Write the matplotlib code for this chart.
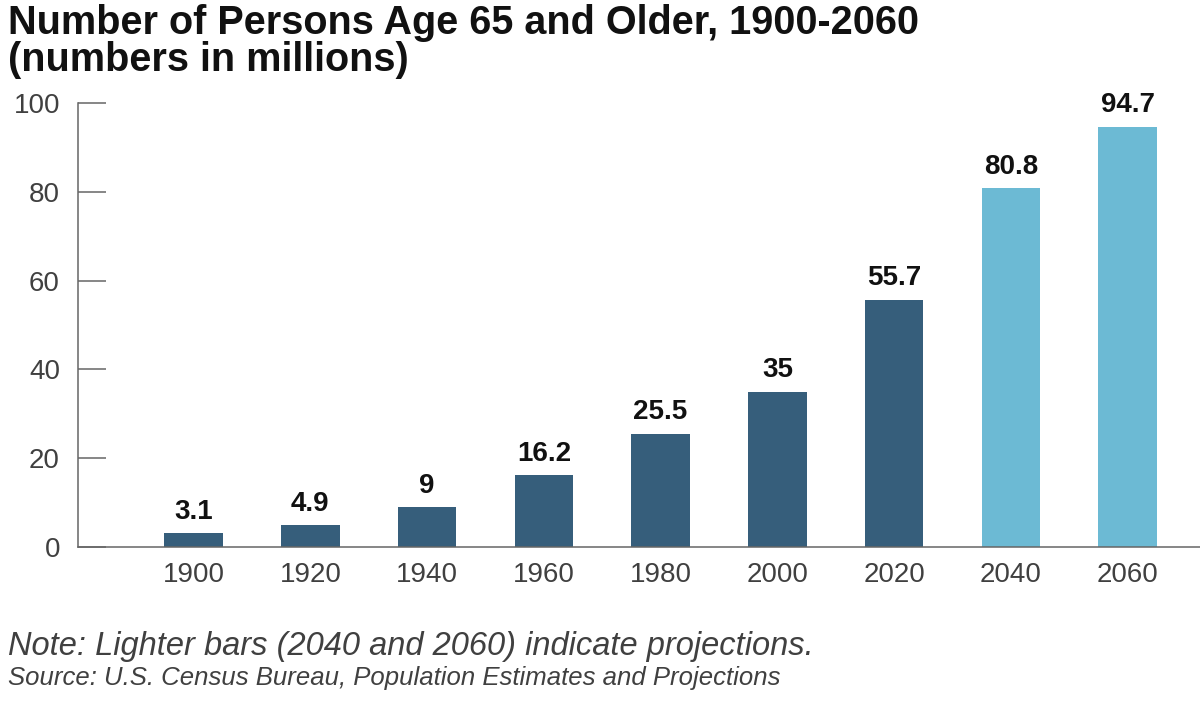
import matplotlib.pyplot as plt

# Data
years = ['1900', '1920', '1940', '1960', '1980', '2000', '2020', '2040', '2060']
persons = [3.1, 4.9, 9, 16.2, 25.5, 35, 55.7, 80.8, 94.7]
labels = ['3.1', '4.9', '9', '16.2', '25.5', '35', '55.7', '80.8', '94.7']
projected = [False, False, False, False, False, False, False, True, True]
y_ticks = [0, 20, 40, 60, 80, 100]

dark = '#365e7b'
light = '#6cbad4'
axis_col = '#666666'
text_col = '#404040'

plt.rcParams['font.family'] = ['Liberation Sans', 'DejaVu Sans']

fig = plt.figure(figsize=(12, 7.03), dpi=100)
ax = fig.add_axes([0.065, 0.2219, 0.935, 0.6316])

x = list(range(len(years)))
colors = [light if p else dark for p in projected]
ax.bar(x, persons, width=0.5, color=colors, zorder=2)

# value labels above bars
for xi, v, lab in zip(x, persons, labels):
    ax.annotate(lab, (xi, v), xytext=(0, 6), textcoords='offset points',
                ha='center', va='bottom', fontsize=20, fontweight='bold',
                color='#111111')

ax.set_xlim(-0.99, 8.62)
ax.set_ylim(0, 100)
ax.set_xticks(x)
ax.set_xticklabels(years)
ax.set_yticks(y_ticks)

ax.spines['top'].set_visible(False)
ax.spines['right'].set_visible(False)
for s in ['left', 'bottom']:
    ax.spines[s].set_color(axis_col)
    ax.spines[s].set_linewidth(1.1)

ax.tick_params(axis='y', direction='in', length=20, width=1.1, color=axis_col,
               labelsize=20, labelcolor=text_col, pad=13)
ax.tick_params(axis='x', length=0, labelsize=20, labelcolor=text_col, pad=11)

fig.text(0.007, 0.952, 'Number of Persons Age 65 and Older, 1900-2060',
         fontsize=28.5, fontweight='bold', color='#111111', va='baseline')
fig.text(0.007, 0.899, '(numbers in millions)',
         fontsize=28.5, fontweight='bold', color='#111111', va='baseline')

fig.text(0.007, 0.0683, 'Note: Lighter bars (2040 and 2060) indicate projections.',
         fontsize=23.5, style='italic', color=text_col, va='baseline')
fig.text(0.007, 0.0256, 'Source: U.S. Census Bureau, Population Estimates and Projections',
         fontsize=18.5, style='italic', color=text_col, va='baseline')

fig.savefig('out.png', dpi=100, facecolor='white')
